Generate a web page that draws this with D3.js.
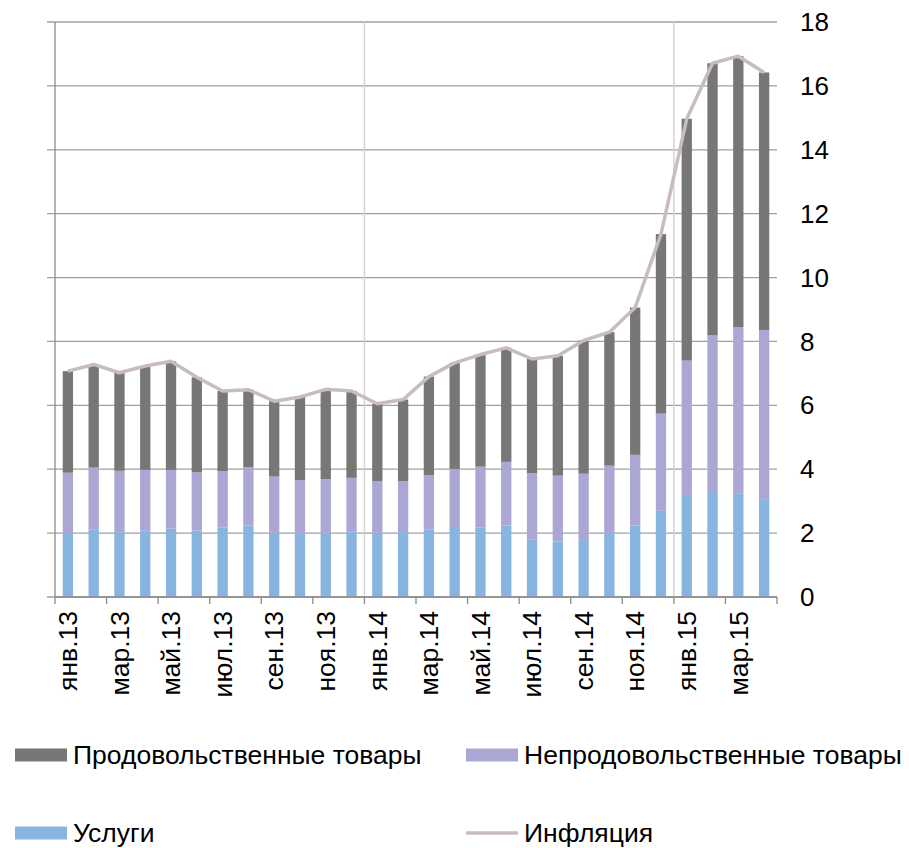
<!DOCTYPE html>
<html>
<head>
<meta charset="utf-8">
<script src="https://cdn.jsdelivr.net/npm/d3@7"></script>
<style>
  html, body { margin: 0; padding: 0; background: #fff; }
  svg text { font-family: "Liberation Sans", Arial, sans-serif; fill: #000; }
</style>
</head>
<body>
<div id="chart"></div>
<script>
// Months, Jan 2013 .. Apr 2015
const months = [
  'янв.13', 'фев.13', 'мар.13', 'апр.13', 'май.13', 'июн.13', 'июл.13', 'авг.13', 'сен.13', 'окт.13', 'ноя.13', 'дек.13',
  'янв.14', 'фев.14', 'мар.14', 'апр.14', 'май.14', 'июн.14', 'июл.14', 'авг.14', 'сен.14', 'окт.14', 'ноя.14', 'дек.14',
  'янв.15', 'фев.15', 'мар.15', 'апр.15'
];

// Contributions to inflation, p.p.
const services = [2.00, 2.12, 2.03, 2.09, 2.14, 2.08, 2.17, 2.24, 2.01, 1.99, 2.01, 2.06,
  2.01, 2.03, 2.12, 2.19, 2.18, 2.24, 1.81, 1.74, 1.78, 1.99, 2.24, 2.70, 3.19, 3.29, 3.25, 3.04];
const nonFood = [1.89, 1.93, 1.92, 1.89, 1.84, 1.82, 1.77, 1.83, 1.76, 1.67, 1.68, 1.67,
  1.62, 1.60, 1.70, 1.82, 1.90, 1.99, 2.07, 2.06, 2.08, 2.12, 2.21, 3.04, 4.21, 4.90, 5.20, 5.32];
const food = [3.18, 3.23, 3.07, 3.25, 3.40, 2.98, 2.51, 2.42, 2.36, 2.60, 2.81, 2.72,
  2.42, 2.55, 3.08, 3.32, 3.51, 3.57, 3.57, 3.75, 4.17, 4.18, 4.61, 5.62, 7.57, 8.52, 8.48, 8.06];
// Headline inflation, % y/y
const inflation = [7.07, 7.28, 7.02, 7.23, 7.38, 6.88, 6.45, 6.49, 6.13, 6.26, 6.50, 6.45,
  6.05, 6.18, 6.90, 7.33, 7.59, 7.80, 7.45, 7.55, 8.03, 8.29, 9.06, 11.36, 14.97, 16.71, 16.93, 16.42];

const yTicks = [0, 2, 4, 6, 8, 10, 12, 14, 16, 18];

const colors = {
  food: '#777777',
  nonFood: '#aaa7d4',
  services: '#88b4e0',
  inflation: '#c8bdbe'
};

const width = 909, height = 848;
const plot = { left: 55, right: 777, top: 22, bottom: 597 };

const svg = d3.select('#chart').append('svg')
  .attr('width', width)
  .attr('height', height);

const x = d3.scaleBand()
  .domain(months)
  .range([plot.left, plot.right])
  .paddingInner(0.6)
  .paddingOuter(0.3);

const y = d3.scaleLinear()
  .domain([0, 18])
  .range([plot.bottom, plot.top]);

// Horizontal gridlines + outside tick marks on the left
svg.append('g')
  .attr('class', 'grid')
  .selectAll('line')
  .data(yTicks)
  .join('line')
  .attr('x1', plot.left - 8)
  .attr('x2', plot.right)
  .attr('y1', d => y(d))
  .attr('y2', d => y(d))
  .attr('stroke', '#a0a0a0')
  .attr('stroke-width', 1.3);

// Year separators (light vertical lines)
const step = x.step();
const bandEdge = i => plot.left + i * step;
svg.append('g')
  .selectAll('line')
  .data([12, 24])
  .join('line')
  .attr('x1', d => bandEdge(d))
  .attr('x2', d => bandEdge(d))
  .attr('y1', plot.top)
  .attr('y2', plot.bottom)
  .attr('stroke', '#d4d4d4')
  .attr('stroke-width', 1.5);

// Stacked bars
const rows = months.map((m, i) => ({ month: m, services: services[i], nonFood: nonFood[i], food: food[i] }));
const stack = d3.stack().keys(['services', 'nonFood', 'food']);
const series = stack(rows);

svg.append('g')
  .selectAll('g')
  .data(series)
  .join('g')
  .attr('fill', d => colors[d.key])
  .selectAll('rect')
  .data(d => d)
  .join('rect')
  .attr('x', d => x(d.data.month))
  .attr('width', x.bandwidth())
  .attr('y', d => y(d[1]))
  .attr('height', d => y(d[0]) - y(d[1]));

// Inflation line
const line = d3.line()
  .x((d, i) => x(months[i]) + x.bandwidth() / 2)
  .y(d => y(d));

svg.append('path')
  .datum(inflation)
  .attr('fill', 'none')
  .attr('stroke', colors.inflation)
  .attr('stroke-width', 3.5)
  .attr('stroke-linejoin', 'round')
  .attr('d', line);

// Left axis line (no labels)
svg.append('line')
  .attr('x1', plot.left).attr('x2', plot.left)
  .attr('y1', plot.top).attr('y2', plot.bottom)
  .attr('stroke', '#8a8a8a')
  .attr('stroke-width', 1.3);

// Bottom axis line + ticks every two months
svg.append('line')
  .attr('x1', plot.left).attr('x2', plot.right)
  .attr('y1', plot.bottom).attr('y2', plot.bottom)
  .attr('stroke', '#8a8a8a')
  .attr('stroke-width', 1.3);

svg.append('g')
  .selectAll('line')
  .data(d3.range(0, months.length + 1, 2))
  .join('line')
  .attr('x1', d => bandEdge(d))
  .attr('x2', d => bandEdge(d))
  .attr('y1', plot.bottom)
  .attr('y2', plot.bottom + 7)
  .attr('stroke', '#8a8a8a')
  .attr('stroke-width', 1.3);

// Category labels (every second month), rotated
svg.append('g')
  .selectAll('text')
  .data(months.filter((m, i) => i % 2 === 0))
  .join('text')
  .attr('transform', d => `translate(${x(d) + x.bandwidth() / 2},611) rotate(-90)`)
  .attr('text-anchor', 'end')
  .attr('dy', '0.35em')
  .style('font-size', '26.5px')
  .text(d => d);

// Right-hand value labels
svg.append('g')
  .selectAll('text')
  .data(yTicks)
  .join('text')
  .attr('x', 800)
  .attr('y', d => y(d))
  .attr('dy', '0.35em')
  .style('font-size', '26px')
  .text(d => d);

// Legend
const legendItems = [
  { label: 'Продовольственные товары', color: colors.food, type: 'rect', x: 15, y: 755 },
  { label: 'Непродовольственные товары', color: colors.nonFood, type: 'rect', x: 466, y: 755 },
  { label: 'Услуги', color: colors.services, type: 'rect', x: 15, y: 833 },
  { label: 'Инфляция', color: colors.inflation, type: 'line', x: 466, y: 833 }
];

const legend = svg.append('g')
  .selectAll('g')
  .data(legendItems)
  .join('g')
  .attr('transform', d => `translate(${d.x},${d.y})`);

legend.filter(d => d.type === 'rect')
  .append('rect')
  .attr('x', 0)
  .attr('y', -6.5)
  .attr('width', 52)
  .attr('height', 13)
  .attr('fill', d => d.color);

legend.filter(d => d.type === 'line')
  .append('line')
  .attr('x1', 0).attr('x2', 52)
  .attr('y1', 0).attr('y2', 0)
  .attr('stroke', d => d.color)
  .attr('stroke-width', 3.5);

legend.append('text')
  .attr('x', 58)
  .attr('dy', '0.35em')
  .style('font-size', '26.5px')
  .text(d => d.label);
</script>
</body>
</html>
